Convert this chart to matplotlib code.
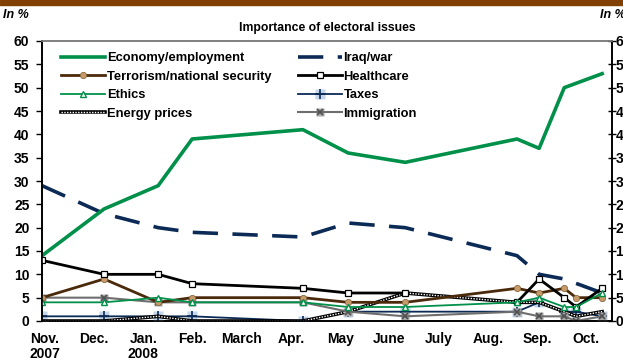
import numpy as np
import matplotlib
matplotlib.use('Agg')
import matplotlib.pyplot as plt
from matplotlib.lines import Line2D
from matplotlib.legend_handler import HandlerTuple

plt.rcParams['font.family'] = ['Liberation Sans', 'DejaVu Sans']
plt.rcParams['font.weight'] = 'bold'

# survey positions in months since Nov. 2007 (slot 7 = no survey, breaks lines)
poll_x = [-0.06, 1.20, 2.30, 2.99, 5.24, 6.16, 7.32, 8.40, 9.59, 10.04, 10.55, 10.79, 11.32]
nan = np.nan
economy = [14, 24, 29, 39, 41, 36, 34, nan, 39, 37, 50, nan, 53]
iraq = [29, 23, 20, 19, 18, 21, 20, nan, 14, 10, 9, nan, 6]
terrorism = [5, 9, 4, 5, 5, 4, 4, nan, 7, 6, 7, 5, 5]
healthcare = [13, 10, 10, 8, 7, 6, 6, nan, 4, 9, 5, 3, 7]
ethics = [4, 4, 5, 4, 4, 3, 3, nan, 4, 5, 3, 3, 6]
taxes = [1, 1, 1, 1, 0, 2, 2, nan, 2, 4, 2, 2, 1]
energy = [0, 0, 1, 0, 0, 2, 6, nan, 4, 4, 2, 1, 2]
immigration = [5, 5, 4, 4, 4, 2, 1, nan, 2, 1, 1, 0, 1]

month_labels = ['Nov.\n2007', 'Dec.', 'Jan.\n2008', 'Feb.', 'March', 'Apr.', 'May',
                'June', 'July', 'Aug.', 'Sep.', 'Oct.']

fig = plt.figure(figsize=(6.23, 3.60), dpi=100)
fig.patch.set_facecolor('white')
# brown band across the top
fig.patches.append(plt.Rectangle((0, 1 - 5 / 360), 1, 5 / 360, transform=fig.transFigure,
                                 color='#7f4000', zorder=0))

ax = fig.add_axes([42 / 623, 1 - 321 / 360, 570 / 623, 280 / 360])


def series(y, keep_gaps=False):
    x = np.array(poll_x)
    y = np.array(y, dtype=float)
    if keep_gaps:
        return x, y
    m = ~np.isnan(y)
    return x[m], y[m]


GREEN = '#00904a'
NAVY = '#0b2a55'
BROWN = '#4b2a0c'
GREY = '#6e6e6e'

x, y = series(economy)
h_econ, = ax.plot(x, y, color=GREEN, lw=2.6, zorder=5)
x, y = series(iraq)
h_iraq, = ax.plot(x, y, color=NAVY, lw=2.6, dashes=(7, 4), zorder=4)
x, y = series(terrorism)
h_terr, = ax.plot(x, y, color=BROWN, lw=2.0, marker='o', ms=4.5, mfc='#c89a6a',
                  mec='#8a6a40', mew=0.6, zorder=4)
x, y = series(healthcare, keep_gaps=True)
h_health, = ax.plot(x, y, color='black', lw=2.0, marker='s', ms=5, mfc='white',
                    mec='black', mew=0.9, zorder=4)
x, y = series(ethics)
h_eth, = ax.plot(x, y, color=GREEN, lw=1.3, marker='^', ms=5, mfc='white',
                 mec=GREEN, mew=1.0, zorder=4)
x, y = series(taxes)
ax.plot(x, y, ls='none', marker='s', ms=7, mfc='#c5d5ea', mec='none', zorder=3)
h_tax, = ax.plot(x, y, color=NAVY, lw=1.3, marker='+', ms=7, mew=1.2, zorder=3)
x, y = series(energy)
h_en1, = ax.plot(x, y, color='black', lw=2.6, zorder=3)
h_en2, = ax.plot(x, y, color='white', lw=1.0, ls=(0, (1, 1)), zorder=3)
x, y = series(immigration)
ax.plot(x, y, ls='none', marker='s', ms=6, mfc='#a8a8a8', mec='none', zorder=3)
h_imm, = ax.plot(x, y, color=GREY, lw=1.5, marker='x', ms=5, mec='#505050', mew=1.2, zorder=3)

h_tax_leg = (Line2D([], [], ls='none', marker='s', ms=7, mfc='#c5d5ea', mec='none'), h_tax)
h_imm_leg = (Line2D([], [], ls='none', marker='s', ms=6, mfc='#a8a8a8', mec='none'), h_imm)

handles = [h_econ, h_terr, h_eth, (h_en1, h_en2), h_iraq, h_health, h_tax_leg, h_imm_leg]
labels = ['Economy/employment', 'Terrorism/national security', 'Ethics', 'Energy prices',
          'Iraq/war', 'Healthcare', 'Taxes', 'Immigration']
leg = ax.legend(handles, labels, ncol=2, loc='upper left', bbox_to_anchor=(0.025, 0.978),
                frameon=False, fontsize=9.3, handlelength=3.4, handletextpad=0.15,
                columnspacing=2.0, labelspacing=0.5, borderaxespad=0.0,
                handler_map={tuple: HandlerTuple(ndivide=1)})
for t in leg.get_texts():
    t.set_fontweight('bold')

ax.set_xlim(-0.06, 11.52)
ax.set_ylim(0, 60)
ax.set_yticks(range(0, 61, 5))
ax.set_xticks(range(12))
ax.set_xticklabels(month_labels, fontsize=10, fontweight='bold', ha='center', va='top',
                   linespacing=1.05)
ax.tick_params(axis='x', length=0, pad=8)
ax.tick_params(axis='y', direction='out', length=4, width=1, labelsize=10, pad=5)
for lab in ax.get_yticklabels():
    lab.set_fontweight('bold')

ax2 = ax.twinx()
ax2.set_ylim(0, 60)
ax2.set_yticks(range(0, 61, 5))
ax2.tick_params(axis='y', direction='inout', length=6, width=1, labelsize=10, pad=-0.5)
for lab in ax2.get_yticklabels():
    lab.set_fontweight('bold')

for a in (ax, ax2):
    a.spines['top'].set_color('#808080')
    a.spines['left'].set_color('black')
    a.spines['right'].set_color('black')
    a.spines['bottom'].set_color('black')
    for s in a.spines.values():
        s.set_linewidth(1.2)

fig.text(327 / 623, 1 - 28 / 360, 'Importance of electoral issues', ha='center', va='center',
         fontsize=8.8, fontweight='bold')
fig.text(3 / 623, 1 - 15 / 360, 'In %', ha='left', va='center', fontsize=9,
         fontweight='bold', style='italic')
fig.text(600 / 623, 1 - 15 / 360, 'In %', ha='left', va='center', fontsize=9,
         fontweight='bold', style='italic')

fig.savefig('out.png', dpi=100)
